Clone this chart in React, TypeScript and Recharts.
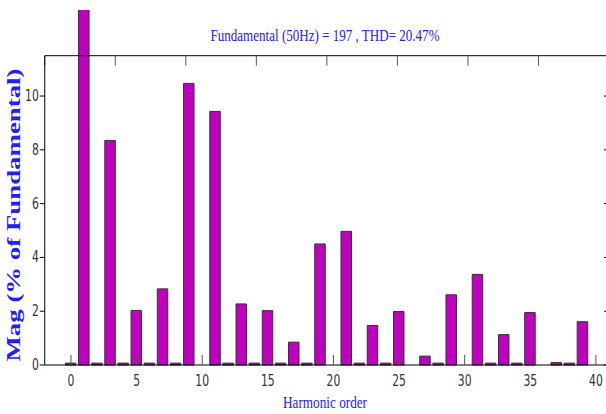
import { ComposedChart, Bar, XAxis, YAxis } from 'recharts';

// harmonic spectrum (% of fundamental)
const harmonics = [
  0, 1, 2, 3, 4, 5, 6, 7, 8, 9, 10, 11, 12, 13, 14, 15, 16, 17, 18, 19, 20,
  21, 22, 23, 24, 25, 26, 27, 28, 29, 30, 31, 32, 33, 34, 35, 36, 37, 38, 39, 40,
];
const magnitudes = [
  0.07, 100, 0.07, 8.35, 0.07, 2.03, 0.07, 2.83, 0.07, 10.47, 0,
  9.43, 0.07, 2.27, 0.07, 2.02, 0.07, 0.85, 0.07, 4.5, 0,
  4.97, 0.07, 1.47, 0.07, 1.99, 0, 0.33, 0.07, 2.61, 0,
  3.37, 0.07, 1.13, 0.07, 1.95, 0, 0.09, 0.07, 1.61, 0,
];
const xTicks = [0, 5, 10, 15, 20, 25, 30, 35, 40];
const yTicks = [0, 2, 4, 6, 8, 10];

const data = harmonics.map((h, i) => ({ h, mag: magnitudes[i] }));

const BLUE = '#2020ff';
const BAR = '#bf00bf';
const TICK_FONT = '"Liberation Sans Narrow", "DejaVu Sans Condensed", Arial, sans-serif';
const SERIF = '"Liberation Serif", "Times New Roman", serif';

const CHART_H = 404;
const X_AXIS_H = 49;
const PLOT_BOTTOM = CHART_H - X_AXIS_H;

// narrow, tall digits like the matlab export
function TickText({ x, y, value, anchor }: { x: number; y: number; value: number; anchor: string }) {
  return (
    <text transform={`translate(${x},${y}) scale(0.8,1)`} textAnchor={anchor} fill="#333" fontSize={15} fontFamily={TICK_FONT}>
      {value}
    </text>
  );
}

function BottomTick(props: any) {
  const { x, y, payload } = props;
  return (
    <g>
      <line x1={x} x2={x} y1={PLOT_BOTTOM} y2={PLOT_BOTTOM - 10} stroke="#555" />
      <TickText x={x} y={y + 9} value={payload.value} anchor="middle" />
    </g>
  );
}

function LeftTick(props: any) {
  const { x, y, payload } = props;
  return <TickText x={x} y={y + 5} value={payload.value} anchor="end" />;
}

const NoLabel = () => <g />;

export default function App() {
  return (
    <div style={{ position: 'absolute', left: 0, top: 0, width: 606, height: 414, overflow: 'hidden', background: '#fff' }}>
      <style>{`.recharts-bar-rectangles{clip-path:none !important}`}</style>
      <div style={{ position: 'absolute', left: 0, top: 10 }}>
        <ComposedChart width={612} height={CHART_H} data={data} margin={{ top: 45.7, right: 3, bottom: 0, left: 4.75 }}>
          <XAxis
            dataKey="h"
            type="number"
            domain={[-2, 41]}
            allowDataOverflow
            ticks={xTicks}
            height={X_AXIS_H}
            tickLine={false}
            tickSize={10}
            tickMargin={2}
            tick={BottomTick}
            axisLine={{ stroke: '#000' }}
          />
          <XAxis
            xAxisId="top"
            orientation="top"
            type="number"
            domain={[-2, 41]}
            allowDataOverflow
            ticks={xTicks}
            mirror
            tick={NoLabel}
            tickSize={10}
            tickLine={{ stroke: '#555' }}
            axisLine={{ stroke: '#000' }}
          />
          <YAxis
            type="number"
            domain={[0, 11.5]}
            allowDataOverflow
            ticks={yTicks}
            width={40}
            tickSize={5}
            tickMargin={1}
            tick={LeftTick}
            tickLine={{ stroke: '#000' }}
            axisLine={{ stroke: '#000' }}
          />
          <YAxis
            yAxisId="right"
            orientation="right"
            type="number"
            domain={[0, 11.5]}
            allowDataOverflow
            ticks={yTicks}
            mirror
            tick={NoLabel}
            tickSize={5}
            tickLine={{ stroke: '#000' }}
            axisLine={{ stroke: '#000' }}
          />
          <Bar dataKey="mag" fill={BAR} stroke="#333" strokeWidth={1} barSize={10.5} isAnimationActive={false} />
        </ComposedChart>
      </div>
      <svg width={606} height={414} style={{ position: 'absolute', left: 0, top: 0, pointerEvents: 'none' }}>
        <text x={325} y={41} textAnchor="middle" fill={BLUE} fontSize={17} fontFamily={SERIF} textLength={229} lengthAdjust="spacingAndGlyphs">
          Fundamental (50Hz) = 197 , THD= 20.47%
        </text>
        <text x={325} y={408} textAnchor="middle" fill={BLUE} fontSize={16} fontFamily={SERIF} textLength={84} lengthAdjust="spacingAndGlyphs">
          Harmonic order
        </text>
        <text
          transform="translate(20,215) rotate(-90)"
          textAnchor="middle"
          fill={BLUE}
          fontSize={18}
          fontWeight="bold"
          fontFamily={SERIF}
          textLength={293}
          lengthAdjust="spacingAndGlyphs"
        >
          Mag (% of Fundamental)
        </text>
      </svg>
    </div>
  );
}
